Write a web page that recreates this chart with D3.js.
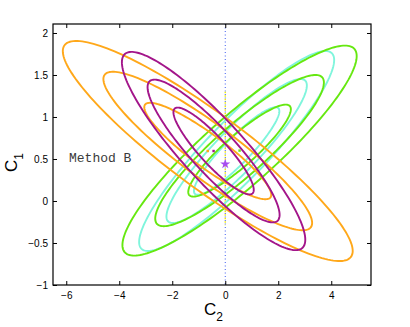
<!DOCTYPE html>
<html>
<head>
<meta charset="utf-8">
<script src="https://cdn.jsdelivr.net/npm/d3@7"></script>
<style>
  body { margin: 0; background: #fff; }
  svg { display: block; }
</style>
</head>
<body>
<div class="chart"></div>
<script>
// ellipse groups (drawn in this order)
const groupColors = ["#7ff5dc", "#66e810", "#ffa81a", "#a3158a"];
const centerX = [0.43, 0.54, -0.66, -0.44];
const centerY = [0.595, 0.6, 0.595, 0.595];
const spreadX = [3.68, 4.42, 5.47, 3.46];
const spreadY = [1.19, 1.25, 1.31, 1.18];
const corr = [0.91, 0.9, -0.908, -0.895];
const showCenter = [false, true, true, true];
const levels = [0.438, 0.72, 1];

const starPoint = [0, 0.44];
const yellowSpan = [1.3, -0.29];

const xTicks = [-6, -4, -2, 0, 2, 4];
const yTicks = [-1, -0.5, 0, 0.5, 1, 1.5, 2];

const width = 410, height = 327;
const margin = { top: 24, right: 39, bottom: 42, left: 53 };

const x = d3.scaleLinear().domain([-6.5, 5.5]).range([margin.left, width - margin.right]);
const y = d3.scaleLinear().domain([-1, 2.107]).range([height - margin.bottom, margin.top]);

const fmt = (v) => String(v).replace("-", "\u2212");

const svg = d3.select(".chart").append("svg")
  .attr("width", width)
  .attr("height", height)
  .style("background", "#fff");

const plot = svg.append("g");

// vertical dotted line at C2 = 0
plot.append("line")
  .attr("x1", x(0)).attr("x2", x(0))
  .attr("y1", y.range()[1]).attr("y2", y.range()[0])
  .attr("stroke", "#3f5cf0").attr("stroke-width", 1)
  .attr("stroke-dasharray", "1,2.5");
plot.append("line")
  .attr("x1", x(0)).attr("x2", x(0))
  .attr("y1", y(yellowSpan[0])).attr("y2", y(yellowSpan[1]))
  .attr("stroke", "#f2ee00").attr("stroke-width", 1.4)
  .attr("stroke-dasharray", "1.5,2");

function ellipsePoints(i, k) {
  const n = 180;
  const r = corr[i];
  const s = Math.sqrt(1 - r * r);
  return d3.range(n).map((j) => {
    const t = (j / n) * 2 * Math.PI;
    return [
      centerX[i] + k * spreadX[i] * Math.cos(t),
      centerY[i] + k * spreadY[i] * (r * Math.cos(t) + s * Math.sin(t)),
    ];
  });
}

const line = d3.line()
  .x((d) => x(d[0]))
  .y((d) => y(d[1]))
  .curve(d3.curveLinearClosed);

groupColors.forEach((color, i) => {
  plot.append("g")
    .selectAll("path")
    .data(levels)
    .join("path")
    .attr("d", (k) => line(ellipsePoints(i, k)))
    .attr("fill", "none")
    .attr("stroke", color)
    .attr("stroke-width", 1.9);
});

// centre marks
groupColors.forEach((color, i) => {
  if (!showCenter[i]) return;
  plot.append("rect")
    .attr("x", x(centerX[i]) - 1.2)
    .attr("y", y(centerY[i]) - 1.2)
    .attr("width", 2.4).attr("height", 2.4)
    .attr("fill", color);
});

plot.append("path")
  .attr("d", d3.symbol(d3.symbolStar, 32)())
  .attr("transform", `translate(${x(starPoint[0])},${y(starPoint[1])})`)
  .attr("fill", "#a64cf0");

svg.append("text")
  .attr("x", 69).attr("y", 162)
  .attr("font-family", "'Liberation Mono', 'DejaVu Sans Mono', monospace")
  .attr("font-size", 13)
  .attr("fill", "#3a3a3a")
  .text("Method B");

// axes
const axisFont = "'Liberation Sans', Arial, sans-serif";
const xAxis = svg.append("g")
  .attr("transform", `translate(0,${y.range()[0]})`)
  .call(d3.axisBottom(x).tickValues(xTicks).tickFormat(fmt).tickSize(-4).tickPadding(7));
const yAxis = svg.append("g")
  .attr("transform", `translate(${x.range()[0]},0)`)
  .call(d3.axisLeft(y).tickValues(yTicks).tickFormat(fmt).tickSize(-4).tickPadding(5));
const xTop = svg.append("g")
  .attr("transform", `translate(0,${y.range()[1]})`)
  .call(d3.axisTop(x).tickValues(xTicks).tickFormat("").tickSize(-4));
const yRight = svg.append("g")
  .attr("transform", `translate(${x.range()[1]},0)`)
  .call(d3.axisRight(y).tickValues(yTicks).tickFormat("").tickSize(-4));

[xAxis, yAxis, xTop, yRight].forEach((g) => {
  g.select(".domain").remove();
  g.selectAll("line").attr("stroke", "#000");
  g.selectAll("text")
    .attr("font-family", axisFont)
    .attr("font-size", 10)
    .attr("fill", "#000");
});

svg.append("rect")
  .attr("x", x.range()[0]).attr("y", y.range()[1])
  .attr("width", x.range()[1] - x.range()[0])
  .attr("height", y.range()[0] - y.range()[1])
  .attr("fill", "none")
  .attr("stroke", "#000")
  .attr("stroke-width", 1.2);

// axis labels
const xLabel = svg.append("text")
  .attr("x", 204).attr("y", 315)
  .attr("font-family", axisFont)
  .attr("font-size", 17)
  .attr("fill", "#000");
xLabel.append("tspan").text("C");
xLabel.append("tspan").attr("font-size", 12).attr("dy", 6).text("2");

const yLabel = svg.append("text")
  .attr("transform", "translate(17,172) rotate(-90)")
  .attr("font-family", axisFont)
  .attr("font-size", 17)
  .attr("fill", "#000");
yLabel.append("tspan").text("C");
yLabel.append("tspan").attr("font-size", 12).attr("dy", 6).text("1");
</script>
</body>
</html>
